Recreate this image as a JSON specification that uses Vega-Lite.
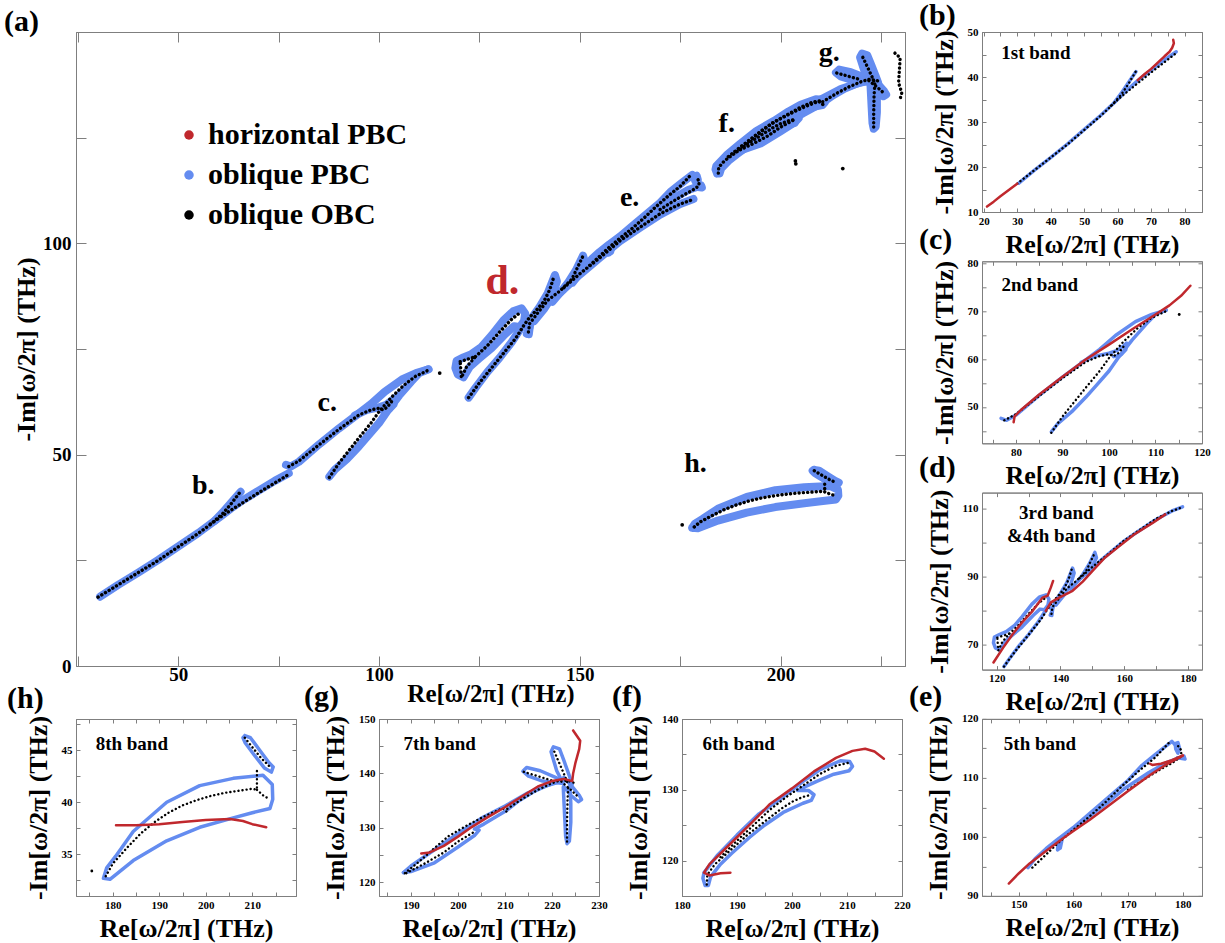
{
"$schema":"https://vega.github.io/schema/vega-lite/v6.json",
"background":"white",
"padding":{"left":3,"top":0,"right":5,"bottom":5},
"config":{
 "font":"Liberation Serif",
 "view":{"stroke":"#7f7f7f","strokeWidth":1},
 "axis":{"grid":false,"domainColor":"#7f7f7f","tickColor":"#7f7f7f","tickSize":-4,"labelPadding":7,"labelFont":"Liberation Serif","labelFontWeight":"bold","labelFontSize":11,"labelColor":"black","labelFlush":false,"labelOverlap":false,"titleFont":"Liberation Serif","titleFontWeight":"bold","titleFontSize":26,"titleColor":"black","titlePadding":5},
 "axisY":{"labelPadding":8,"titlePadding":10},
 "title":{"font":"Liberation Serif","fontWeight":"bold","fontSize":30,"color":"black","anchor":"start","frame":"group","baseline":"alphabetic"}
},
"datasets":{
"pbc":[
{"p":"b","s":"b1","x":30.5,"y":16.4},{"p":"b","s":"b1","x":35,"y":19.2},{"p":"b","s":"b1","x":40,"y":22.1},{"p":"b","s":"b1","x":45,"y":25.1},{"p":"b","s":"b1","x":50,"y":28.3},{"p":"b","s":"b1","x":55,"y":31.5},{"p":"b","s":"b1","x":60,"y":35},{"p":"b","s":"b1","x":63,"y":37.2},{"p":"b","s":"b1","x":66,"y":39.2},{"p":"b","s":"b1","x":70,"y":41.5},{"p":"b","s":"b1","x":74,"y":43.8},{"p":"b","s":"b1","x":77.5,"y":45.6},
{"p":"b","s":"b2","x":59,"y":34.3},{"p":"b","s":"b2","x":61,"y":36.3},{"p":"b","s":"b2","x":63,"y":38.5},{"p":"b","s":"b2","x":65.5,"y":41.2},
{"p":"c","s":"c1","x":76.8,"y":47.6},{"p":"c","s":"c1","x":78,"y":47.2},{"p":"c","s":"c1","x":80,"y":48.3},{"p":"c","s":"c1","x":85,"y":52.4},{"p":"c","s":"c1","x":90,"y":56.2},{"p":"c","s":"c1","x":95,"y":59.8},{"p":"c","s":"c1","x":98,"y":62},{"p":"c","s":"c1","x":101.4,"y":64.9},{"p":"c","s":"c1","x":105.7,"y":67.8},{"p":"c","s":"c1","x":109.2,"y":69.3},{"p":"c","s":"c1","x":112.3,"y":70.2},
{"p":"c","s":"c2","x":87.6,"y":44.8},{"p":"c","s":"c2","x":89,"y":46.5},{"p":"c","s":"c2","x":92,"y":49},{"p":"c","s":"c2","x":95,"y":52},{"p":"c","s":"c2","x":97.1,"y":54.3},{"p":"c","s":"c2","x":100,"y":57.5},{"p":"c","s":"c2","x":102.1,"y":60.4},{"p":"c","s":"c2","x":105,"y":64},{"p":"c","s":"c2","x":108,"y":67.3},{"p":"c","s":"c2","x":110,"y":69.3},{"p":"c","s":"c2","x":112.3,"y":70.2},
{"p":"c","s":"c3","x":94,"y":59.3},{"p":"c","s":"c3","x":97,"y":60.6},{"p":"c","s":"c3","x":100,"y":61.2},{"p":"c","s":"c3","x":101.8,"y":61.8},{"p":"c","s":"c3","x":103.2,"y":62.8},{"p":"c","s":"c3","x":103.8,"y":63.3},{"p":"c","s":"c3","x":103.6,"y":61.9},{"p":"c","s":"c3","x":102.6,"y":60.9},{"p":"c","s":"c3","x":101,"y":60.5},
{"p":"d","s":"d1","x":121,"y":68.3},{"p":"d","s":"d1","x":119.6,"y":69},{"p":"d","s":"d1","x":119,"y":70.5},{"p":"d","s":"d1","x":119.3,"y":72.2},{"p":"d","s":"d1","x":121,"y":73},{"p":"d","s":"d1","x":123,"y":73.8},{"p":"d","s":"d1","x":125.5,"y":75.5},{"p":"d","s":"d1","x":128,"y":78.2},{"p":"d","s":"d1","x":131,"y":81.8},{"p":"d","s":"d1","x":133.5,"y":84},{"p":"d","s":"d1","x":135.5,"y":84.6},{"p":"d","s":"d1","x":136.4,"y":83.4},{"p":"d","s":"d1","x":136.1,"y":81.6},{"p":"d","s":"d1","x":135,"y":80.2},{"p":"d","s":"d1","x":133.6,"y":80.4},{"p":"d","s":"d1","x":131.5,"y":78.6},{"p":"d","s":"d1","x":128,"y":75.2},{"p":"d","s":"d1","x":125,"y":72.8},{"p":"d","s":"d1","x":122.6,"y":70.8},{"p":"d","s":"d1","x":121,"y":68.3},
{"p":"d","s":"d2","x":122.3,"y":63.5},{"p":"d","s":"d2","x":124,"y":65.8},{"p":"d","s":"d2","x":127,"y":69.6},{"p":"d","s":"d2","x":130,"y":72.9},{"p":"d","s":"d2","x":133,"y":76.6},{"p":"d","s":"d2","x":135,"y":79.5},{"p":"d","s":"d2","x":136.3,"y":81.5},{"p":"d","s":"d2","x":137.5,"y":80},{"p":"d","s":"d2","x":137.3,"y":78.5},
{"p":"d","s":"d3","x":136.8,"y":78.6},{"p":"d","s":"d3","x":137.5,"y":80.2},{"p":"d","s":"d3","x":138.2,"y":82.6},{"p":"d","s":"d3","x":140,"y":85},{"p":"d","s":"d3","x":142,"y":88.2},{"p":"d","s":"d3","x":143.8,"y":92.5},{"p":"d","s":"d3","x":144.3,"y":91},{"p":"d","s":"d3","x":143.2,"y":87.6},{"p":"d","s":"d3","x":141.2,"y":84.6},{"p":"d","s":"d3","x":138.6,"y":81.6},
{"p":"d","s":"d4","x":143.2,"y":86.2},{"p":"d","s":"d4","x":145,"y":88.2},{"p":"d","s":"d4","x":147,"y":90.6},{"p":"d","s":"d4","x":149,"y":93.6},{"p":"d","s":"d4","x":150.8,"y":97.1},{"p":"d","s":"d4","x":151.3,"y":95.5},{"p":"d","s":"d4","x":150,"y":93},{"p":"d","s":"d4","x":148.2,"y":90.7},
{"p":"d","s":"d5","x":143,"y":86.6},{"p":"d","s":"d5","x":146,"y":89.1},{"p":"d","s":"d5","x":150,"y":92.6},{"p":"d","s":"d5","x":155,"y":96.6},{"p":"d","s":"d5","x":160,"y":100.5},{"p":"d","s":"d5","x":165,"y":103.7},{"p":"d","s":"d5","x":170,"y":106.8},{"p":"d","s":"d5","x":175,"y":109.3},{"p":"d","s":"d5","x":178.3,"y":110.5},
{"p":"e","s":"e1","x":151.7,"y":94.8},{"p":"e","s":"e1","x":153,"y":96.3},{"p":"e","s":"e1","x":155,"y":98},{"p":"e","s":"e1","x":157,"y":99.5},{"p":"e","s":"e1","x":160,"y":101.6},{"p":"e","s":"e1","x":163,"y":104},{"p":"e","s":"e1","x":166.5,"y":106.8},{"p":"e","s":"e1","x":170,"y":109.6},{"p":"e","s":"e1","x":172.5,"y":112.1},{"p":"e","s":"e1","x":175,"y":114},{"p":"e","s":"e1","x":178,"y":116.2},{"p":"e","s":"e1","x":178.6,"y":115.6},
{"p":"e","s":"e2","x":178.6,"y":115.8},{"p":"e","s":"e2","x":179.1,"y":116},{"p":"e","s":"e2","x":179.4,"y":115},{"p":"e","s":"e2","x":179.1,"y":114.2},{"p":"e","s":"e2","x":178.7,"y":114.9},{"p":"e","s":"e2","x":178.6,"y":115.8},
{"p":"e","s":"e3","x":160,"y":101.3},{"p":"e","s":"e3","x":163,"y":103.5},{"p":"e","s":"e3","x":166.5,"y":106},{"p":"e","s":"e3","x":169.5,"y":108.3},{"p":"e","s":"e3","x":173.8,"y":110.9},{"p":"e","s":"e3","x":177,"y":112.6},{"p":"e","s":"e3","x":180.2,"y":113.7},{"p":"e","s":"e3","x":180.4,"y":113.2},{"p":"e","s":"e3","x":179,"y":113.4},
{"p":"e","s":"e4","x":157.1,"y":97.8},{"p":"e","s":"e4","x":157.6,"y":98.1},{"p":"e","s":"e4","x":157.9,"y":99.4},{"p":"e","s":"e4","x":157.3,"y":99.6},{"p":"e","s":"e4","x":157.1,"y":97.8},
{"p":"f","s":"f1","x":184.2,"y":116.5},{"p":"f","s":"f1","x":183.8,"y":117.5},{"p":"f","s":"f1","x":184,"y":118.3},{"p":"f","s":"f1","x":186.5,"y":120.8},{"p":"f","s":"f1","x":190,"y":123.6},{"p":"f","s":"f1","x":194,"y":126.6},{"p":"f","s":"f1","x":198.4,"y":129},{"p":"f","s":"f1","x":202,"y":131.2},{"p":"f","s":"f1","x":205,"y":132.8},{"p":"f","s":"f1","x":208.8,"y":134.1},{"p":"f","s":"f1","x":210.5,"y":134},{"p":"f","s":"f1","x":211,"y":133.3},{"p":"f","s":"f1","x":210.4,"y":132.7},{"p":"f","s":"f1","x":207.6,"y":132.2},{"p":"f","s":"f1","x":204.5,"y":131.2},{"p":"f","s":"f1","x":202,"y":130.3},{"p":"f","s":"f1","x":201,"y":129.9},{"p":"f","s":"f1","x":203,"y":129.9},{"p":"f","s":"f1","x":204,"y":129.3},{"p":"f","s":"f1","x":203.5,"y":128.5},{"p":"f","s":"f1","x":202,"y":128.1},{"p":"f","s":"f1","x":198.4,"y":126.8},{"p":"f","s":"f1","x":195,"y":125},{"p":"f","s":"f1","x":192.3,"y":123.3},{"p":"f","s":"f1","x":189,"y":121},{"p":"f","s":"f1","x":187,"y":119.5},{"p":"f","s":"f1","x":185.2,"y":117.7},{"p":"f","s":"f1","x":184.8,"y":116.5},{"p":"f","s":"f1","x":184.2,"y":116.5},
{"p":"g","s":"g1","x":188.4,"y":121.8},{"p":"g","s":"g1","x":190,"y":122},{"p":"g","s":"g1","x":195,"y":123.6},{"p":"g","s":"g1","x":200,"y":126.5},{"p":"g","s":"g1","x":203.5,"y":128.6},{"p":"g","s":"g1","x":204.5,"y":129.6},{"p":"g","s":"g1","x":203.5,"y":129.8},{"p":"g","s":"g1","x":205.5,"y":130.7},{"p":"g","s":"g1","x":208,"y":132},{"p":"g","s":"g1","x":210.5,"y":133.3},{"p":"g","s":"g1","x":213,"y":135},{"p":"g","s":"g1","x":216,"y":136.6},{"p":"g","s":"g1","x":219,"y":137.8},{"p":"g","s":"g1","x":221.5,"y":138.4},
{"p":"g","s":"g2","x":188.4,"y":121.8},{"p":"g","s":"g2","x":190,"y":123},{"p":"g","s":"g2","x":195,"y":126},{"p":"g","s":"g2","x":200,"y":129},{"p":"g","s":"g2","x":205,"y":131.8},{"p":"g","s":"g2","x":210,"y":134},{"p":"g","s":"g2","x":215,"y":136.5},{"p":"g","s":"g2","x":221.5,"y":138.6},
{"p":"g","s":"g3","x":222,"y":138.2},{"p":"g","s":"g3","x":218,"y":138.6},{"p":"g","s":"g3","x":215,"y":139.5},{"p":"g","s":"g3","x":213.8,"y":140.4},{"p":"g","s":"g3","x":214.6,"y":141.1},{"p":"g","s":"g3","x":217.5,"y":140.5},{"p":"g","s":"g3","x":221,"y":139.2},{"p":"g","s":"g3","x":223,"y":138.6},
{"p":"g","s":"g4","x":222.5,"y":138},{"p":"g","s":"g4","x":221,"y":140.5},{"p":"g","s":"g4","x":219.8,"y":144},{"p":"g","s":"g4","x":220.3,"y":144.9},{"p":"g","s":"g4","x":221.6,"y":144.5},{"p":"g","s":"g4","x":222.6,"y":142.2},{"p":"g","s":"g4","x":223.6,"y":139.8},{"p":"g","s":"g4","x":224.3,"y":138},
{"p":"g","s":"g5","x":222.5,"y":139.3},{"p":"g","s":"g5","x":224.3,"y":137.6},{"p":"g","s":"g5","x":225.8,"y":136},{"p":"g","s":"g5","x":226.3,"y":135.2},{"p":"g","s":"g5","x":225.6,"y":134.8},{"p":"g","s":"g5","x":224,"y":136},{"p":"g","s":"g5","x":222.6,"y":137.5},
{"p":"g","s":"g6","x":222.4,"y":137.5},{"p":"g","s":"g6","x":222.7,"y":132},{"p":"g","s":"g6","x":222.9,"y":128.5},{"p":"g","s":"g6","x":223.2,"y":127.1},{"p":"g","s":"g6","x":223.7,"y":127.6},{"p":"g","s":"g6","x":224,"y":131},{"p":"g","s":"g6","x":224,"y":134.5},{"p":"g","s":"g6","x":223.8,"y":137.8},
{"p":"h","s":"h1","x":178,"y":32.7},{"p":"h","s":"h1","x":179.4,"y":32.6},{"p":"h","s":"h1","x":184.4,"y":34.4},{"p":"h","s":"h1","x":191.6,"y":36.3},{"p":"h","s":"h1","x":198.7,"y":37.6},{"p":"h","s":"h1","x":205.9,"y":38.5},{"p":"h","s":"h1","x":210,"y":39},{"p":"h","s":"h1","x":213.8,"y":39.4},{"p":"h","s":"h1","x":214.4,"y":40.3},{"p":"h","s":"h1","x":214.3,"y":41.7},{"p":"h","s":"h1","x":212.3,"y":42.6},{"p":"h","s":"h1","x":205.9,"y":42.3},{"p":"h","s":"h1","x":198.7,"y":41.6},{"p":"h","s":"h1","x":191.6,"y":40},{"p":"h","s":"h1","x":184.4,"y":37.2},{"p":"h","s":"h1","x":180.6,"y":34.8},{"p":"h","s":"h1","x":178.7,"y":33.7},{"p":"h","s":"h1","x":178,"y":32.7},
{"p":"h","s":"h2","x":208.4,"y":46.4},{"p":"h","s":"h2","x":209.6,"y":46.2},{"p":"h","s":"h2","x":211.6,"y":45},{"p":"h","s":"h2","x":213.6,"y":43.8},{"p":"h","s":"h2","x":214.5,"y":43.4},{"p":"h","s":"h2","x":214.1,"y":42.9},{"p":"h","s":"h2","x":212.6,"y":43.3},{"p":"h","s":"h2","x":210.5,"y":44.5},{"p":"h","s":"h2","x":208.5,"y":45.7},{"p":"h","s":"h2","x":208,"y":46.2},{"p":"h","s":"h2","x":208.4,"y":46.4}
],
"obc":[
{"p":"b","s":"kb1","x":30,"y":16.3},{"p":"b","s":"kb1","x":35,"y":19.2},{"p":"b","s":"kb1","x":40,"y":22.1},{"p":"b","s":"kb1","x":45,"y":25},{"p":"b","s":"kb1","x":50,"y":28.2},{"p":"b","s":"kb1","x":55,"y":31.4},{"p":"b","s":"kb1","x":58,"y":33.5},{"p":"b","s":"kb1","x":61,"y":36},{"p":"b","s":"kb1","x":63,"y":38.2},{"p":"b","s":"kb1","x":65.5,"y":41.3},
{"p":"b","s":"kb2","x":58,"y":33.6},{"p":"b","s":"kb2","x":62,"y":36.2},{"p":"b","s":"kb2","x":66,"y":38.6},{"p":"b","s":"kb2","x":70,"y":41},{"p":"b","s":"kb2","x":74,"y":43.3},{"p":"b","s":"kb2","x":77.8,"y":45.5},
{"p":"c","s":"kc1","x":77.5,"y":47.2},{"p":"c","s":"kc1","x":80,"y":48.5},{"p":"c","s":"kc1","x":85,"y":52.3},{"p":"c","s":"kc1","x":90,"y":56},{"p":"c","s":"kc1","x":95,"y":59.4},{"p":"c","s":"kc1","x":98,"y":60.6},{"p":"c","s":"kc1","x":100,"y":61},{"p":"c","s":"kc1","x":101,"y":60.6},{"p":"c","s":"kc1","x":102,"y":61.2},{"p":"c","s":"kc1","x":103,"y":62.4},{"p":"c","s":"kc1","x":103.4,"y":63},
{"p":"c","s":"kc2","x":87.6,"y":44.6},{"p":"c","s":"kc2","x":90,"y":48},{"p":"c","s":"kc2","x":92.5,"y":51},{"p":"c","s":"kc2","x":95,"y":54},{"p":"c","s":"kc2","x":98,"y":57.5},{"p":"c","s":"kc2","x":100,"y":60.2},{"p":"c","s":"kc2","x":103,"y":63.5},{"p":"c","s":"kc2","x":106,"y":66.3},{"p":"c","s":"kc2","x":109,"y":68.5},{"p":"c","s":"kc2","x":112.3,"y":70},
{"p":"d","s":"kd1","x":120.2,"y":72},{"p":"d","s":"kd1","x":124,"y":73.2},{"p":"d","s":"kd1","x":121.8,"y":70.8},{"p":"d","s":"kd1","x":120.5,"y":68.2},{"p":"d","s":"kd1","x":120.2,"y":72},
{"p":"d","s":"kd2","x":124,"y":73.2},{"p":"d","s":"kd2","x":127,"y":75.8},{"p":"d","s":"kd2","x":130,"y":79},{"p":"d","s":"kd2","x":133,"y":82},{"p":"d","s":"kd2","x":135,"y":83.5},
{"p":"d","s":"kd3","x":122.3,"y":63.5},{"p":"d","s":"kd3","x":125,"y":67},{"p":"d","s":"kd3","x":128,"y":70.5},{"p":"d","s":"kd3","x":131,"y":74},{"p":"d","s":"kd3","x":134,"y":77.5},{"p":"d","s":"kd3","x":136,"y":80.5},{"p":"d","s":"kd3","x":137.5,"y":82.5},{"p":"d","s":"kd3","x":139,"y":84},{"p":"d","s":"kd3","x":141,"y":86.2},{"p":"d","s":"kd3","x":142.5,"y":89},{"p":"d","s":"kd3","x":143.6,"y":92.3},
{"p":"d","s":"kd4","x":137.2,"y":79},{"p":"d","s":"kd4","x":137.5,"y":81},{"p":"d","s":"kd4","x":139.5,"y":83.5},{"p":"d","s":"kd4","x":142,"y":86.5},{"p":"d","s":"kd4","x":145,"y":88.7},{"p":"d","s":"kd4","x":148,"y":91.5},{"p":"d","s":"kd4","x":150.7,"y":96.8},
{"p":"d","s":"kd5","x":146,"y":89.5},{"p":"d","s":"kd5","x":150,"y":92.8},{"p":"d","s":"kd5","x":155,"y":96.6},{"p":"d","s":"kd5","x":160,"y":100.6},{"p":"d","s":"kd5","x":165,"y":103.8},{"p":"d","s":"kd5","x":170,"y":107},{"p":"d","s":"kd5","x":175,"y":109.3},{"p":"d","s":"kd5","x":178,"y":110.3},
{"p":"e","s":"ke1","x":152.5,"y":94.8},{"p":"e","s":"ke1","x":155,"y":97},{"p":"e","s":"ke1","x":157,"y":98.8},{"p":"e","s":"ke1","x":160,"y":101.2},{"p":"e","s":"ke1","x":163,"y":103.5},{"p":"e","s":"ke1","x":166,"y":106},{"p":"e","s":"ke1","x":169,"y":108.7},{"p":"e","s":"ke1","x":172,"y":111.2},{"p":"e","s":"ke1","x":175,"y":113.5},{"p":"e","s":"ke1","x":177.5,"y":116},
{"p":"e","s":"ke2","x":170,"y":108},{"p":"e","s":"ke2","x":173,"y":109.8},{"p":"e","s":"ke2","x":176,"y":111.5},{"p":"e","s":"ke2","x":178,"y":112.5},{"p":"e","s":"ke2","x":179.5,"y":113.5},{"p":"e","s":"ke2","x":179.8,"y":114.5},{"p":"e","s":"ke2","x":179.3,"y":115.3},{"p":"e","s":"ke2","x":178.7,"y":115.6},
{"p":"f","s":"kf1","x":184.5,"y":116.6},{"p":"f","s":"kf1","x":184.6,"y":118},{"p":"f","s":"kf1","x":186,"y":119.5},{"p":"f","s":"kf1","x":189,"y":121.6},{"p":"f","s":"kf1","x":192,"y":123.7},{"p":"f","s":"kf1","x":195,"y":125.5},{"p":"f","s":"kf1","x":198,"y":127.3},{"p":"f","s":"kf1","x":200,"y":128.3},{"p":"f","s":"kf1","x":202,"y":129},{"p":"f","s":"kf1","x":203.5,"y":129.3},
{"p":"f","s":"kf2","x":187,"y":120.5},{"p":"f","s":"kf2","x":190,"y":122.8},{"p":"f","s":"kf2","x":193,"y":125},{"p":"f","s":"kf2","x":196,"y":127.2},{"p":"f","s":"kf2","x":199,"y":129},{"p":"f","s":"kf2","x":202,"y":130.6},{"p":"f","s":"kf2","x":205,"y":132.2},{"p":"f","s":"kf2","x":208,"y":133.4},{"p":"f","s":"kf2","x":210.2,"y":133.8},
{"p":"g","s":"kg1","x":188.7,"y":121.7},{"p":"g","s":"kg1","x":192,"y":124},{"p":"g","s":"kg1","x":195,"y":126.3},{"p":"g","s":"kg1","x":198,"y":128.5},{"p":"g","s":"kg1","x":202,"y":130.5},{"p":"g","s":"kg1","x":206,"y":132.3},{"p":"g","s":"kg1","x":209.5,"y":133.6},{"p":"g","s":"kg1","x":210.6,"y":132.8},
{"p":"g","s":"kg2","x":189,"y":121.7},{"p":"g","s":"kg2","x":193,"y":123.5},{"p":"g","s":"kg2","x":197,"y":125.5},{"p":"g","s":"kg2","x":200,"y":127.5},{"p":"g","s":"kg2","x":203.5,"y":129.3},
{"p":"g","s":"kg3","x":210.5,"y":133.5},{"p":"g","s":"kg3","x":214,"y":135.5},{"p":"g","s":"kg3","x":217,"y":137},{"p":"g","s":"kg3","x":220,"y":138.2},{"p":"g","s":"kg3","x":222,"y":138.8},{"p":"g","s":"kg3","x":224,"y":138.5},{"p":"g","s":"kg3","x":225,"y":138.2},
{"p":"g","s":"kg4","x":214,"y":140.3},{"p":"g","s":"kg4","x":217,"y":139.5},{"p":"g","s":"kg4","x":220,"y":138.7},
{"p":"g","s":"kg5","x":220.5,"y":144},{"p":"g","s":"kg5","x":221.5,"y":142},{"p":"g","s":"kg5","x":222.5,"y":140},{"p":"g","s":"kg5","x":223.3,"y":138.3},
{"p":"g","s":"kg6","x":222,"y":138.5},{"p":"g","s":"kg6","x":224,"y":137},{"p":"g","s":"kg6","x":225.8,"y":135.5},
{"p":"g","s":"kg7","x":223.2,"y":127.5},{"p":"g","s":"kg7","x":223.2,"y":131},{"p":"g","s":"kg7","x":223.3,"y":135},{"p":"g","s":"kg7","x":223.5,"y":138},
{"p":"h","s":"kh1","x":178.5,"y":32.9},{"p":"h","s":"kh1","x":180,"y":34.1},{"p":"h","s":"kh1","x":183,"y":35.6},{"p":"h","s":"kh1","x":186,"y":37},{"p":"h","s":"kh1","x":189,"y":38.1},{"p":"h","s":"kh1","x":192,"y":39},{"p":"h","s":"kh1","x":195,"y":39.7},{"p":"h","s":"kh1","x":198,"y":40.2},{"p":"h","s":"kh1","x":201,"y":40.6},{"p":"h","s":"kh1","x":204,"y":40.9},{"p":"h","s":"kh1","x":207,"y":41.1},{"p":"h","s":"kh1","x":210,"y":41.3},{"p":"h","s":"kh1","x":211,"y":41.2},
{"p":"h","s":"kh2","x":208.4,"y":46.2},{"p":"h","s":"kh2","x":210,"y":45.3},{"p":"h","s":"kh2","x":212,"y":44.2},{"p":"h","s":"kh2","x":213.8,"y":43.4},
{"p":"h","s":"kh3","x":211,"y":43},{"p":"h","s":"kh3","x":211,"y":42.2},{"p":"h","s":"kh3","x":211,"y":41.3},
{"p":"h","s":"kh4","x":211,"y":41.2},{"p":"h","s":"kh4","x":212.5,"y":40.6},{"p":"h","s":"kh4","x":213.8,"y":40.3},
{"p":"a","s":"ka1","x":228.5,"y":145},{"p":"a","s":"ka1","x":229.8,"y":143.9},{"p":"a","s":"ka1","x":229.6,"y":141},{"p":"a","s":"ka1","x":229.4,"y":138},{"p":"a","s":"ka1","x":230.2,"y":135.6},{"p":"a","s":"ka1","x":229.8,"y":134.2}
],
"hpbc":[
{"p":"b","s":"rb1","x":21,"y":11.2},{"p":"b","s":"rb1","x":23,"y":12.3},{"p":"b","s":"rb1","x":25,"y":13.5},{"p":"b","s":"rb1","x":27.5,"y":14.9},{"p":"b","s":"rb1","x":30,"y":16.3},
{"p":"b","s":"rb2","x":66,"y":39.3},{"p":"b","s":"rb2","x":68,"y":40.6},{"p":"b","s":"rb2","x":70,"y":41.8},{"p":"b","s":"rb2","x":72,"y":43.2},{"p":"b","s":"rb2","x":74,"y":44.6},{"p":"b","s":"rb2","x":75.5,"y":45.6},{"p":"b","s":"rb2","x":76.3,"y":46.5},{"p":"b","s":"rb2","x":76.8,"y":47.5},{"p":"b","s":"rb2","x":76.6,"y":48.3},
{"p":"c","s":"rc1","x":79.5,"y":46.8},{"p":"c","s":"rc1","x":79.7,"y":48},{"p":"c","s":"rc1","x":81,"y":49.3},{"p":"c","s":"rc1","x":85,"y":52.6},{"p":"c","s":"rc1","x":90,"y":56.3},{"p":"c","s":"rc1","x":95,"y":59.9},{"p":"c","s":"rc1","x":100,"y":63},{"p":"c","s":"rc1","x":105,"y":66.2},{"p":"c","s":"rc1","x":110,"y":69.3},{"p":"c","s":"rc1","x":113,"y":71.2},{"p":"c","s":"rc1","x":115.5,"y":73.2},{"p":"c","s":"rc1","x":117.5,"y":75.3},
{"p":"d","s":"rd1","x":119,"y":64.7},{"p":"d","s":"rd1","x":122,"y":69},{"p":"d","s":"rd1","x":125,"y":73},{"p":"d","s":"rd1","x":128,"y":76.5},{"p":"d","s":"rd1","x":131.3,"y":79.9},{"p":"d","s":"rd1","x":134.4,"y":83.8},{"p":"d","s":"rd1","x":136,"y":84.4},{"p":"d","s":"rd1","x":137,"y":86.8},{"p":"d","s":"rd1","x":137.7,"y":88.7},
{"p":"d","s":"rd2","x":135.4,"y":79.9},{"p":"d","s":"rd2","x":137,"y":82.4},{"p":"d","s":"rd2","x":139.6,"y":83.8},{"p":"d","s":"rd2","x":143.8,"y":85.8},{"p":"d","s":"rd2","x":147,"y":88.5},{"p":"d","s":"rd2","x":150,"y":91.6},{"p":"d","s":"rd2","x":154,"y":95.6},{"p":"d","s":"rd2","x":158.3,"y":98.8},{"p":"d","s":"rd2","x":163,"y":102.3},{"p":"d","s":"rd2","x":168.8,"y":105.7},{"p":"d","s":"rd2","x":172.9,"y":108.3},
{"p":"e","s":"re1","x":148.2,"y":92.1},{"p":"e","s":"re1","x":150,"y":93.8},{"p":"e","s":"re1","x":152,"y":95.5},{"p":"e","s":"re1","x":155,"y":97.6},{"p":"e","s":"re1","x":158,"y":99.7},{"p":"e","s":"re1","x":160,"y":101},{"p":"e","s":"re1","x":163,"y":102.9},{"p":"e","s":"re1","x":166,"y":105},{"p":"e","s":"re1","x":170,"y":107.8},{"p":"e","s":"re1","x":174,"y":110.5},{"p":"e","s":"re1","x":177,"y":112.3},{"p":"e","s":"re1","x":179.5,"y":113.5},{"p":"e","s":"re1","x":180,"y":113.8},
{"p":"e","s":"re2","x":180,"y":113.8},{"p":"e","s":"re2","x":178,"y":113},{"p":"e","s":"re2","x":176,"y":112.4},{"p":"e","s":"re2","x":174.4,"y":112.2},{"p":"e","s":"re2","x":174,"y":112.4},
{"p":"f","s":"rf1","x":188.8,"y":118.3},{"p":"f","s":"rf1","x":187,"y":118.2},{"p":"f","s":"rf1","x":185,"y":117.9},{"p":"f","s":"rf1","x":184,"y":118.3},{"p":"f","s":"rf1","x":185,"y":119.5},{"p":"f","s":"rf1","x":187,"y":121},{"p":"f","s":"rf1","x":190,"y":123.3},{"p":"f","s":"rf1","x":193,"y":125.6},{"p":"f","s":"rf1","x":196,"y":128},{"p":"f","s":"rf1","x":200,"y":130.2},{"p":"f","s":"rf1","x":204,"y":132.6},{"p":"f","s":"rf1","x":208,"y":134.5},{"p":"f","s":"rf1","x":211,"y":135.5},{"p":"f","s":"rf1","x":213.3,"y":135.8},{"p":"f","s":"rf1","x":215,"y":135.4},{"p":"f","s":"rf1","x":216.7,"y":134.4},
{"p":"g","s":"rg1","x":192.2,"y":125.3},{"p":"g","s":"rg1","x":194,"y":125.5},{"p":"g","s":"rg1","x":197,"y":126.7},{"p":"g","s":"rg1","x":200,"y":128.4},{"p":"g","s":"rg1","x":203,"y":130.2},{"p":"g","s":"rg1","x":206,"y":131.8},{"p":"g","s":"rg1","x":210,"y":133.8},{"p":"g","s":"rg1","x":214,"y":136},{"p":"g","s":"rg1","x":217,"y":137.6},{"p":"g","s":"rg1","x":220,"y":138.6},{"p":"g","s":"rg1","x":222.5,"y":139},{"p":"g","s":"rg1","x":224.3,"y":138.6},{"p":"g","s":"rg1","x":224.5,"y":140},{"p":"g","s":"rg1","x":225,"y":142},{"p":"g","s":"rg1","x":225.8,"y":144.5},{"p":"g","s":"rg1","x":226,"y":146},{"p":"g","s":"rg1","x":224.5,"y":147.9},
{"p":"h","s":"rh1","x":180.7,"y":37.8},{"p":"h","s":"rh1","x":185,"y":37.8},{"p":"h","s":"rh1","x":190,"y":37.9},{"p":"h","s":"rh1","x":195,"y":38.1},{"p":"h","s":"rh1","x":200,"y":38.3},{"p":"h","s":"rh1","x":205.2,"y":38.4},{"p":"h","s":"rh1","x":208,"y":38.2},{"p":"h","s":"rh1","x":210,"y":37.9},{"p":"h","s":"rh1","x":213,"y":37.6}
],
"iso":[
{"p":"c","x":115.1,"y":69.3},{"p":"h","x":175.5,"y":33.4},{"p":"a","x":203.7,"y":119.5},{"p":"a","x":203.8,"y":118.8},{"p":"a","x":215.5,"y":117.7}
]
},
"bounds":"flush",
"spacing":906,
"hconcat":[
{"bounds":"flush","spacing":53,"vconcat":[
 {"width":829,"height":634,
  "title":{"text":"(a)","dx":-72,"offset":-5},
  "layer":[
   {"data":{"name":"pbc"},"mark":{"type":"line","stroke":"#648cf0","strokeWidth":8,"strokeCap":"round","strokeJoin":"round","clip":true},
    "encoding":{
     "x":{"field":"x","type":"quantitative","scale":{"domain":[24.5,231],"nice":false,"zero":false},"axis":{"values":[25,50,75,100,125,150,175,200,225],"labelExpr":"datum.value%50===0?datum.label:''","title":"Re[ω/2π] (THz)","labelFontSize":19,"tickSize":-10,"labelPadding":9,"titlePadding":-3,"titleFontSize":25}},
     "y":{"field":"y","type":"quantitative","scale":{"domain":[0,150],"nice":false,"zero":false},"axis":{"values":[0,25,50,75,100,125],"labelExpr":"datum.value%50===0?datum.label:''","title":"-Im[ω/2π] (THz)","labelFontSize":19,"tickSize":-10,"labelPadding":15,"titlePadding":3}},
     "detail":{"field":"s"},"order":{"value":null}}},
   {"data":{"name":"obc"},"mark":{"type":"line","stroke":"black","strokeWidth":3.4,"strokeDash":[0.1,4.2],"strokeCap":"round","clip":true},
    "encoding":{
     "x":{"field":"x","type":"quantitative","axis":{"orient":"top","values":[25,50,75,100,125,150,175,200,225],"labels":false,"title":null,"tickSize":-10}},
     "y":{"field":"y","type":"quantitative","axis":{"orient":"right","values":[0,25,50,75,100,125],"labels":false,"title":null,"tickSize":-10}},
     "detail":{"field":"s"},"order":{"value":null}}},
   {"data":{"name":"iso"},"mark":{"type":"point","filled":true,"size":14,"opacity":1},
    "encoding":{
     "x":{"field":"x","type":"quantitative","axis":null},
     "y":{"field":"y","type":"quantitative","axis":null},
     "color":{"datum":"oblique OBC","scale":{"domain":["horizontal PBC","oblique PBC","oblique OBC"],"range":["#c0282d","#648cf0","black"]},
      "legend":{"title":null,"orient":"none","legendX":98,"legendY":88,"padding":0,"symbolType":"circle","symbolSize":90,"symbolStrokeWidth":0,"labelFont":"Liberation Serif","labelFontWeight":"bold","labelFontSize":30,"labelColor":"black","labelOffset":4,"rowPadding":10,"labelLimit":400}}}},
   {"data":{"values":[{"t":"b.","x":56.2,"y":42.6},{"t":"c.","x":87.1,"y":62.3},{"t":"d.","x":130.7,"y":91.2},{"t":"e.","x":162.4,"y":110.8},{"t":"f.","x":186.6,"y":128.2},{"t":"g.","x":212.1,"y":145.1},{"t":"h.","x":178.8,"y":47.7}]},
    "mark":{"type":"text","font":"Liberation Serif","fontWeight":"bold","align":"center","baseline":"middle"},
    "encoding":{
     "x":{"field":"x","type":"quantitative","axis":null},
     "y":{"field":"y","type":"quantitative","axis":null},
     "text":{"field":"t"},
     "color":{"condition":{"test":"datum.t==='d.'","value":"#c0282d"},"value":"black"},
     "size":{"condition":{"test":"datum.t==='d.'","value":42},"value":28}}}
  ],
  "resolve":{"axis":{"x":"independent","y":"independent"}}
 },
 {"bounds":"flush","spacing":83,"hconcat":[
  {"width":220,"height":177,"title":{"text":"(h)","dx":-69,"offset":1},
   "layer":[
    {"data":{"name":"pbc"},"transform":[{"filter":"datum.p==='h'"}],"mark":{"type":"line","stroke":"#648cf0","strokeWidth":3.5,"strokeCap":"round","strokeJoin":"round","clip":true},
     "encoding":{"x":{"field":"x","type":"quantitative","scale":{"domain":[172.1,219.4],"nice":false,"zero":false},"axis":{"values":[175,180,185,190,195,200,205,210,215],"labelExpr":"datum.value%10===0?datum.label:''","title":"Re[ω/2π] (THz)"}},
      "y":{"field":"y","type":"quantitative","scale":{"domain":[31,48],"nice":false,"zero":false},"axis":{"values":[32.5,35,37.5,40,42.5,45,47.5],"labelExpr":"datum.value%5===0?datum.label:''","title":"-Im[ω/2π] (THz)"}},
      "detail":{"field":"s"},"order":{"value":null}}},
    {"data":{"name":"obc"},"transform":[{"filter":"datum.p==='h'"}],"mark":{"type":"line","stroke":"black","strokeWidth":2.4,"strokeDash":[0.1,4],"strokeCap":"round","clip":true},
     "encoding":{"x":{"field":"x","type":"quantitative","axis":{"orient":"top","values":[175,180,185,190,195,200,205,210,215],"labels":false,"title":null}},
      "y":{"field":"y","type":"quantitative","axis":{"orient":"right","values":[32.5,35,37.5,40,42.5,45,47.5],"labels":false,"title":null}},
      "detail":{"field":"s"},"order":{"value":null}}},
    {"data":{"name":"hpbc"},"transform":[{"filter":"datum.p==='h'"}],"mark":{"type":"line","stroke":"#c0282d","strokeWidth":2.5,"strokeCap":"round","strokeJoin":"round","clip":true},
     "encoding":{"x":{"field":"x","type":"quantitative","axis":null},"y":{"field":"y","type":"quantitative","axis":null},"detail":{"field":"s"},"order":{"value":null}}},
    {"data":{"name":"iso"},"transform":[{"filter":"datum.p==='h'"}],"mark":{"type":"point","filled":true,"size":8,"color":"black","opacity":1},
     "encoding":{"x":{"field":"x","type":"quantitative","axis":null},"y":{"field":"y","type":"quantitative","axis":null}}},
    {"data":{"values":[{"t":"8th band","x":184.1,"y":45.6}]},"mark":{"type":"text","font":"Liberation Serif","fontWeight":"bold","fontSize":19,"align":"center","baseline":"middle"},
     "encoding":{"x":{"field":"x","type":"quantitative","axis":null},"y":{"field":"y","type":"quantitative","axis":null},"text":{"field":"t"}}}
   ],
   "resolve":{"axis":{"x":"independent","y":"independent"}}},
  {"width":220,"height":177,"title":{"text":"(g)","dx":-75,"offset":1},
   "layer":[
    {"data":{"name":"pbc"},"transform":[{"filter":"datum.p==='g'"}],"mark":{"type":"line","stroke":"#648cf0","strokeWidth":3.5,"strokeCap":"round","strokeJoin":"round","clip":true},
     "encoding":{"x":{"field":"x","type":"quantitative","scale":{"domain":[183.2,230],"nice":false,"zero":false},"axis":{"values":[185,190,195,200,205,210,215,220,225,230],"labelExpr":"datum.value%10===0?datum.label:''","title":"Re[ω/2π] (THz)"}},
      "y":{"field":"y","type":"quantitative","scale":{"domain":[117.5,150],"nice":false,"zero":false},"axis":{"values":[120,125,130,135,140,145,150],"labelExpr":"datum.value%10===0?datum.label:''","title":"-Im[ω/2π] (THz)"}},
      "detail":{"field":"s"},"order":{"value":null}}},
    {"data":{"name":"obc"},"transform":[{"filter":"datum.p==='g'"}],"mark":{"type":"line","stroke":"black","strokeWidth":2.4,"strokeDash":[0.1,4],"strokeCap":"round","clip":true},
     "encoding":{"x":{"field":"x","type":"quantitative","axis":{"orient":"top","values":[185,190,195,200,205,210,215,220,225,230],"labels":false,"title":null}},
      "y":{"field":"y","type":"quantitative","axis":{"orient":"right","values":[120,125,130,135,140,145,150],"labels":false,"title":null}},
      "detail":{"field":"s"},"order":{"value":null}}},
    {"data":{"name":"hpbc"},"transform":[{"filter":"datum.p==='g'"}],"mark":{"type":"line","stroke":"#c0282d","strokeWidth":2.5,"strokeCap":"round","strokeJoin":"round","clip":true},
     "encoding":{"x":{"field":"x","type":"quantitative","axis":null},"y":{"field":"y","type":"quantitative","axis":null},"detail":{"field":"s"},"order":{"value":null}}},
    {"data":{"values":[{"t":"7th band","x":196.1,"y":145.5}]},"mark":{"type":"text","font":"Liberation Serif","fontWeight":"bold","fontSize":19,"align":"center","baseline":"middle"},
     "encoding":{"x":{"field":"x","type":"quantitative","axis":null},"y":{"field":"y","type":"quantitative","axis":null},"text":{"field":"t"}}}
   ],
   "resolve":{"axis":{"x":"independent","y":"independent"}}},
  {"width":220,"height":177,"title":{"text":"(f)","dx":-70,"offset":1},
   "layer":[
    {"data":{"name":"pbc"},"transform":[{"filter":"datum.p==='f'"}],"mark":{"type":"line","stroke":"#648cf0","strokeWidth":3.5,"strokeCap":"round","strokeJoin":"round","clip":true},
     "encoding":{"x":{"field":"x","type":"quantitative","scale":{"domain":[180,220],"nice":false,"zero":false},"axis":{"values":[180,185,190,195,200,205,210,215,220],"labelExpr":"datum.value%10===0?datum.label:''","title":"Re[ω/2π] (THz)"}},
      "y":{"field":"y","type":"quantitative","scale":{"domain":[115,140],"nice":false,"zero":false},"axis":{"values":[115,120,125,130,135,140],"labelExpr":"datum.value%10===0?datum.label:''","title":"-Im[ω/2π] (THz)"}},
      "detail":{"field":"s"},"order":{"value":null}}},
    {"data":{"name":"obc"},"transform":[{"filter":"datum.p==='f'"}],"mark":{"type":"line","stroke":"black","strokeWidth":2.4,"strokeDash":[0.1,4],"strokeCap":"round","clip":true},
     "encoding":{"x":{"field":"x","type":"quantitative","axis":{"orient":"top","values":[180,185,190,195,200,205,210,215,220],"labels":false,"title":null}},
      "y":{"field":"y","type":"quantitative","axis":{"orient":"right","values":[115,120,125,130,135,140],"labels":false,"title":null}},
      "detail":{"field":"s"},"order":{"value":null}}},
    {"data":{"name":"hpbc"},"transform":[{"filter":"datum.p==='f'"}],"mark":{"type":"line","stroke":"#c0282d","strokeWidth":2.5,"strokeCap":"round","strokeJoin":"round","clip":true},
     "encoding":{"x":{"field":"x","type":"quantitative","axis":null},"y":{"field":"y","type":"quantitative","axis":null},"detail":{"field":"s"},"order":{"value":null}}},
    {"data":{"values":[{"t":"6th band","x":190.3,"y":136.5}]},"mark":{"type":"text","font":"Liberation Serif","fontWeight":"bold","fontSize":19,"align":"center","baseline":"middle"},
     "encoding":{"x":{"field":"x","type":"quantitative","axis":null},"y":{"field":"y","type":"quantitative","axis":null},"text":{"field":"t"}}}
   ],
   "resolve":{"axis":{"x":"independent","y":"independent"}}}
 ]}
]},
{"bounds":"flush","spacing":49.3,"vconcat":[
  {"width":220,"height":180,"title":{"text":"(b)","dx":-63,"offset":-5},
   "layer":[
    {"data":{"name":"pbc"},"transform":[{"filter":"datum.p==='b'"}],"mark":{"type":"line","stroke":"#648cf0","strokeWidth":3.5,"strokeCap":"round","strokeJoin":"round","clip":true},
     "encoding":{"x":{"field":"x","type":"quantitative","scale":{"domain":[19.5,85.2],"nice":false,"zero":false},"axis":{"values":[20,25,30,35,40,45,50,55,60,65,70,75,80],"labelExpr":"datum.value%10===0?datum.label:''","title":"Re[ω/2π] (THz)"}},
      "y":{"field":"y","type":"quantitative","scale":{"domain":[10,50],"nice":false,"zero":false},"axis":{"values":[10,15,20,25,30,35,40,45,50],"labelExpr":"datum.value%10===0?datum.label:''","title":"-Im[ω/2π] (THz)"}},
      "detail":{"field":"s"},"order":{"value":null}}},
    {"data":{"name":"obc"},"transform":[{"filter":"datum.p==='b'"}],"mark":{"type":"line","stroke":"black","strokeWidth":2.4,"strokeDash":[0.1,4],"strokeCap":"round","clip":true},
     "encoding":{"x":{"field":"x","type":"quantitative","axis":{"orient":"top","values":[20,25,30,35,40,45,50,55,60,65,70,75,80],"labels":false,"title":null}},
      "y":{"field":"y","type":"quantitative","axis":{"orient":"right","values":[10,15,20,25,30,35,40,45,50],"labels":false,"title":null}},
      "detail":{"field":"s"},"order":{"value":null}}},
    {"data":{"name":"hpbc"},"transform":[{"filter":"datum.p==='b'"}],"mark":{"type":"line","stroke":"#c0282d","strokeWidth":2.5,"strokeCap":"round","strokeJoin":"round","clip":true},
     "encoding":{"x":{"field":"x","type":"quantitative","axis":null},"y":{"field":"y","type":"quantitative","axis":null},"detail":{"field":"s"},"order":{"value":null}}},
    {"data":{"values":[{"t":"1st band","x":35.6,"y":45.4}]},"mark":{"type":"text","font":"Liberation Serif","fontWeight":"bold","fontSize":19,"align":"center","baseline":"middle"},
     "encoding":{"x":{"field":"x","type":"quantitative","axis":null},"y":{"field":"y","type":"quantitative","axis":null},"text":{"field":"t"}}}
   ],
   "resolve":{"axis":{"x":"independent","y":"independent"}}},
  {"width":220,"height":182,"title":{"text":"(c)","dx":-63,"offset":2},
   "layer":[
    {"data":{"name":"pbc"},"transform":[{"filter":"datum.p==='c'"}],"mark":{"type":"line","stroke":"#648cf0","strokeWidth":3.5,"strokeCap":"round","strokeJoin":"round","clip":true},
     "encoding":{"x":{"field":"x","type":"quantitative","scale":{"domain":[72.7,120],"nice":false,"zero":false},"axis":{"values":[75,80,85,90,95,100,105,110,115,120],"labelExpr":"datum.value%10===0?datum.label:''","title":"Re[ω/2π] (THz)"}},
      "y":{"field":"y","type":"quantitative","scale":{"domain":[42.4,80.4],"nice":false,"zero":false},"axis":{"values":[45,50,55,60,65,70,75,80],"labelExpr":"datum.value%10===0?datum.label:''","title":"-Im[ω/2π] (THz)"}},
      "detail":{"field":"s"},"order":{"value":null}}},
    {"data":{"name":"obc"},"transform":[{"filter":"datum.p==='c'"}],"mark":{"type":"line","stroke":"black","strokeWidth":2.4,"strokeDash":[0.1,4],"strokeCap":"round","clip":true},
     "encoding":{"x":{"field":"x","type":"quantitative","axis":{"orient":"top","values":[75,80,85,90,95,100,105,110,115,120],"labels":false,"title":null}},
      "y":{"field":"y","type":"quantitative","axis":{"orient":"right","values":[45,50,55,60,65,70,75,80],"labels":false,"title":null}},
      "detail":{"field":"s"},"order":{"value":null}}},
    {"data":{"name":"hpbc"},"transform":[{"filter":"datum.p==='c'"}],"mark":{"type":"line","stroke":"#c0282d","strokeWidth":2.5,"strokeCap":"round","strokeJoin":"round","clip":true},
     "encoding":{"x":{"field":"x","type":"quantitative","axis":null},"y":{"field":"y","type":"quantitative","axis":null},"detail":{"field":"s"},"order":{"value":null}}},
    {"data":{"name":"iso"},"transform":[{"filter":"datum.p==='c'"}],"mark":{"type":"point","filled":true,"size":8,"color":"black","opacity":1},
     "encoding":{"x":{"field":"x","type":"quantitative","axis":null},"y":{"field":"y","type":"quantitative","axis":null}}},
    {"data":{"values":[{"t":"2nd band","x":85.1,"y":75.4}]},"mark":{"type":"text","font":"Liberation Serif","fontWeight":"bold","fontSize":19,"align":"center","baseline":"middle"},
     "encoding":{"x":{"field":"x","type":"quantitative","axis":null},"y":{"field":"y","type":"quantitative","axis":null},"text":{"field":"t"}}}
   ],
   "resolve":{"axis":{"x":"independent","y":"independent"}}},
  {"width":220,"height":177,"title":{"text":"(d)","dx":-63,"offset":6},
   "layer":[
    {"data":{"name":"pbc"},"transform":[{"filter":"datum.p==='d'"}],"mark":{"type":"line","stroke":"#648cf0","strokeWidth":3.5,"strokeCap":"round","strokeJoin":"round","clip":true},
     "encoding":{"x":{"field":"x","type":"quantitative","scale":{"domain":[115.4,184.4],"nice":false,"zero":false},"axis":{"values":[120,130,140,150,160,170,180],"labelExpr":"datum.value%20===0?datum.label:''","title":"Re[ω/2π] (THz)"}},
      "y":{"field":"y","type":"quantitative","scale":{"domain":[62.6,114.7],"nice":false,"zero":false},"axis":{"values":[70,80,90,100,110],"labelExpr":"(datum.value-70)%20===0?datum.label:''","title":"-Im[ω/2π] (THz)"}},
      "detail":{"field":"s"},"order":{"value":null}}},
    {"data":{"name":"obc"},"transform":[{"filter":"datum.p==='d'"}],"mark":{"type":"line","stroke":"black","strokeWidth":2.4,"strokeDash":[0.1,4],"strokeCap":"round","clip":true},
     "encoding":{"x":{"field":"x","type":"quantitative","axis":{"orient":"top","values":[120,130,140,150,160,170,180],"labels":false,"title":null}},
      "y":{"field":"y","type":"quantitative","axis":{"orient":"right","values":[70,80,90,100,110],"labels":false,"title":null}},
      "detail":{"field":"s"},"order":{"value":null}}},
    {"data":{"name":"hpbc"},"transform":[{"filter":"datum.p==='d'"}],"mark":{"type":"line","stroke":"#c0282d","strokeWidth":2.5,"strokeCap":"round","strokeJoin":"round","clip":true},
     "encoding":{"x":{"field":"x","type":"quantitative","axis":null},"y":{"field":"y","type":"quantitative","axis":null},"detail":{"field":"s"},"order":{"value":null}}},
    {"data":{"values":[{"t":"3rd band","x":138.7,"y":108.6},{"t":"&4th band","x":137.1,"y":101.8}]},"mark":{"type":"text","font":"Liberation Serif","fontWeight":"bold","fontSize":19,"align":"center","baseline":"middle"},
     "encoding":{"x":{"field":"x","type":"quantitative","axis":null},"y":{"field":"y","type":"quantitative","axis":null},"text":{"field":"t"}}}
   ],
   "resolve":{"axis":{"x":"independent","y":"independent"}}},
  {"width":220,"height":177,"title":{"text":"(e)","dx":-73,"offset":1},
   "layer":[
    {"data":{"name":"pbc"},"transform":[{"filter":"datum.p==='e'"}],"mark":{"type":"line","stroke":"#648cf0","strokeWidth":3.5,"strokeCap":"round","strokeJoin":"round","clip":true},
     "encoding":{"x":{"field":"x","type":"quantitative","scale":{"domain":[143.3,183.5],"nice":false,"zero":false},"axis":{"values":[145,150,155,160,165,170,175,180],"labelExpr":"datum.value%10===0?datum.label:''","title":"Re[ω/2π] (THz)"}},
      "y":{"field":"y","type":"quantitative","scale":{"domain":[90,120],"nice":false,"zero":false},"axis":{"values":[90,95,100,105,110,115,120],"labelExpr":"datum.value%10===0?datum.label:''","title":"-Im[ω/2π] (THz)"}},
      "detail":{"field":"s"},"order":{"value":null}}},
    {"data":{"name":"obc"},"transform":[{"filter":"datum.p==='e'"}],"mark":{"type":"line","stroke":"black","strokeWidth":2.4,"strokeDash":[0.1,4],"strokeCap":"round","clip":true},
     "encoding":{"x":{"field":"x","type":"quantitative","axis":{"orient":"top","values":[145,150,155,160,165,170,175,180],"labels":false,"title":null}},
      "y":{"field":"y","type":"quantitative","axis":{"orient":"right","values":[90,95,100,105,110,115,120],"labels":false,"title":null}},
      "detail":{"field":"s"},"order":{"value":null}}},
    {"data":{"name":"hpbc"},"transform":[{"filter":"datum.p==='e'"}],"mark":{"type":"line","stroke":"#c0282d","strokeWidth":2.5,"strokeCap":"round","strokeJoin":"round","clip":true},
     "encoding":{"x":{"field":"x","type":"quantitative","axis":null},"y":{"field":"y","type":"quantitative","axis":null},"detail":{"field":"s"},"order":{"value":null}}},
    {"data":{"values":[{"t":"5th band","x":153.9,"y":115.7}]},"mark":{"type":"text","font":"Liberation Serif","fontWeight":"bold","fontSize":19,"align":"center","baseline":"middle"},
     "encoding":{"x":{"field":"x","type":"quantitative","axis":null},"y":{"field":"y","type":"quantitative","axis":null},"text":{"field":"t"}}}
   ],
   "resolve":{"axis":{"x":"independent","y":"independent"}}}
]}
]
}
